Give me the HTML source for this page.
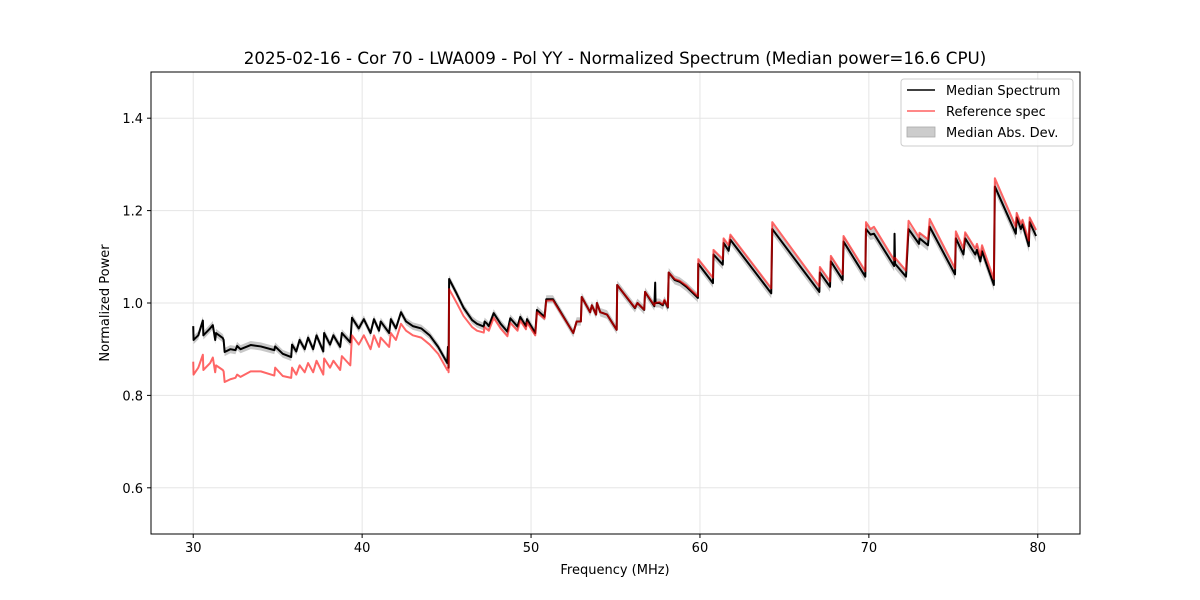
<!DOCTYPE html>
<html><head><meta charset="utf-8"><style>
body{margin:0;background:#fff;}
svg{display:block;font-family:"DejaVu Sans","Liberation Sans",sans-serif;}
</style></head><body>
<svg id="chart" width="1200" height="600" viewBox="0 0 1200 600">
<rect width="1200" height="600" fill="#fff"/>
<text x="615" y="64" text-anchor="middle" font-size="16.7">2025-02-16 - Cor 70 - LWA009 - Pol YY - Normalized Spectrum (Median power=16.6 CPU)</text>
<g id="grid"></g><g id="marks"></g>
<rect x="151" y="72" width="929" height="462" fill="none" stroke="#000" stroke-width="1"/>
<g id="axes"></g>
<text x="615" y="574" text-anchor="middle" font-size="13">Frequency (MHz)</text>
<text transform="translate(109,303) rotate(-90)" text-anchor="middle" font-size="13">Normalized Power</text>
<g>
<rect x="901" y="79" width="172" height="67" rx="3" fill="#fff" fill-opacity="0.8" stroke="#ccc"/>
<g><line x1="907" y1="90" x2="935" y2="90" stroke="#000" stroke-width="1.5"/><text x="946" y="95" font-size="13">Median Spectrum</text></g>
<g><line x1="907" y1="111" x2="935" y2="111" stroke="#ff6060" stroke-width="1.5"/><text x="946" y="116" font-size="13">Reference spec</text></g>
<g><rect x="907" y="127" width="28" height="10" fill="#cccccc" stroke="#aaa" stroke-width="0.8"/><text x="946" y="137" font-size="13">Median Abs. Dev.</text></g>
</g>
</svg>
<script>
const freqs=[30.0,30.02,30.3,30.57,30.6,31.0,31.16,31.3,31.35,31.75,31.8,31.86,32.2,32.5,32.6,32.8,33.4,34.0,34.8,34.85,35.3,35.8,
35.85,36.1,36.3,36.6,36.8,37.1,37.3,37.7,37.75,38.1,38.3,38.7,38.8,39.3,
39.4,39.8,40.1,40.5,40.7,41.0,41.1,41.6,41.7,42.0,42.3,42.6,43.0,43.5,44.0,44.5,45.04,45.08,45.12,
45.15,45.6,46.0,46.51,46.8,47.2,47.25,47.4,47.5,47.79,48.2,48.6,48.77,49.2,49.36,49.7,49.76,50.25,50.35,50.8,50.9,51.3,
52.5,52.7,52.95,53.0,53.5,53.6,53.85,53.9,54.1,54.5,55.07,55.1,56.15,56.3,56.7,56.75,57.3,57.35,57.37,57.6,57.8,57.9,58.1,58.15,58.5,58.8,59.2,59.8,59.88,
59.9,60.77,60.8,61.35,61.4,61.7,61.8,64.22,64.28,67.07,67.1,67.7,67.75,68.45,68.5,69.79,69.83,70.1,70.3,71.5,71.52,71.55,72.2,72.35,72.97,73.0,73.5,73.6,75.1,75.15,75.6,75.7,76.3,76.4,76.6,76.7,77.4,77.46,78.7,78.75,79.0,79.1,79.47,79.52,79.9];
const median=[0.95,0.92,0.93,0.962,0.93,0.945,0.952,0.92,0.935,0.924,0.92,0.894,0.9,0.898,0.907,0.9,0.909,0.906,0.898,0.906,0.89,0.883,
0.91,0.895,0.92,0.9,0.925,0.9,0.93,0.895,0.935,0.91,0.93,0.905,0.935,0.915,
0.968,0.945,0.965,0.935,0.965,0.94,0.96,0.935,0.965,0.945,0.98,0.96,0.95,0.945,0.93,0.905,0.87,0.905,0.86,
1.052,1.02,0.99,0.963,0.955,0.949,0.96,0.955,0.95,0.978,0.955,0.938,0.967,0.949,0.97,0.95,0.965,0.935,0.985,0.97,1.008,1.008,
0.935,0.96,0.96,1.013,0.98,0.995,0.975,1.0,0.98,0.975,0.942,1.039,0.989,1.0,0.985,1.024,0.993,1.044,1.0,1.0,0.995,1.005,0.99,1.066,1.05,1.046,1.035,1.014,1.011,
1.085,1.043,1.105,1.083,1.13,1.113,1.137,1.021,1.16,1.024,1.066,1.035,1.09,1.05,1.133,1.057,1.16,1.148,1.15,1.08,1.15,1.085,1.057,1.16,1.128,1.14,1.125,1.165,1.062,1.14,1.105,1.14,1.105,1.115,1.09,1.112,1.039,1.252,1.15,1.185,1.16,1.17,1.123,1.175,1.145];
const reference=[0.873,0.845,0.86,0.888,0.855,0.87,0.882,0.85,0.865,0.855,0.852,0.829,0.835,0.838,0.845,0.84,0.852,0.852,0.843,0.86,0.842,0.838,
0.86,0.845,0.865,0.85,0.87,0.85,0.875,0.845,0.88,0.86,0.875,0.855,0.885,0.865,
0.93,0.91,0.93,0.9,0.93,0.905,0.925,0.905,0.935,0.92,0.955,0.94,0.93,0.925,0.91,0.89,0.855,0.86,0.85,
1.03,1.0,0.972,0.948,0.94,0.936,0.948,0.943,0.94,0.968,0.945,0.928,0.957,0.94,0.962,0.943,0.958,0.93,0.98,0.966,1.005,1.006,
0.935,0.96,0.96,1.013,0.98,0.995,0.975,1.0,0.98,0.975,0.942,1.039,0.99,1.0,0.986,1.024,0.995,1.0,1.0,1.002,0.997,1.007,0.992,1.066,1.052,1.048,1.038,1.017,1.015,
1.095,1.055,1.115,1.095,1.14,1.125,1.148,1.032,1.175,1.036,1.078,1.047,1.102,1.062,1.145,1.069,1.175,1.16,1.165,1.093,1.093,1.098,1.07,1.178,1.142,1.152,1.138,1.182,1.075,1.155,1.118,1.153,1.118,1.128,1.103,1.125,1.052,1.27,1.165,1.195,1.172,1.18,1.135,1.185,1.158];
const madFreqs=[30,45,60,80];
const madValues=[0.009,0.008,0.01,0.013];
const xTicks=[30,40,50,60,70,80];
const yTicks=[0.6,0.8,1.0,1.2,1.4];
const yTickLabels=["0.6","0.8","1.0","1.2","1.4"];

const NS="http://www.w3.org/2000/svg";
const X0=151,X1=1080,Y0=534,Y1=72,xmin=27.5,xmax=82.5,ymin=0.5,ymax=1.5;
const sx=v=>X0+(v-xmin)/(xmax-xmin)*(X1-X0);
const sy=v=>Y0-(v-ymin)/(ymax-ymin)*(Y0-Y1);
function mk(tag,attrs,parent){const e=document.createElementNS(NS,tag);for(const k in attrs)e.setAttribute(k,attrs[k]);parent.appendChild(e);return e;}
function madAt(f){for(let i=0;i<madFreqs.length-1;i++){if(f<=madFreqs[i+1]){const t=(f-madFreqs[i])/(madFreqs[i+1]-madFreqs[i]);return madValues[i]+t*(madValues[i+1]-madValues[i]);}}return madValues[madValues.length-1];}
const grid=document.getElementById('grid'),marks=document.getElementById('marks'),axes=document.getElementById('axes');
xTicks.forEach(t=>{
 const g=mk('line',{x1:sx(t),x2:sx(t),y1:Y1,y2:Y0,stroke:'#e5e5e5','stroke-width':1},grid);
 
 
 const tk=mk('line',{x1:sx(t),x2:sx(t),y1:Y0,y2:Y0+4,stroke:'#000'},axes);
 
 
 const tl=mk('text',{x:sx(t),y:Y0+18,'text-anchor':'middle','font-size':13},axes);
 tl.textContent=String(t);
 
 
});
yTicks.forEach((t,i)=>{
 const g=mk('line',{x1:X0,x2:X1,y1:sy(t),y2:sy(t),stroke:'#e5e5e5','stroke-width':1},grid);
 
 
 const tk=mk('line',{x1:X0-4,x2:X0,y1:sy(t),y2:sy(t),stroke:'#000'},axes);
 
 
 const tl=mk('text',{x:X0-8,y:sy(t)+5,'text-anchor':'end','font-size':13},axes);
 tl.textContent=yTickLabels[i];
 
 
});
let up='',dn='';
freqs.forEach((f,i)=>{up+=(i?'L':'M')+sx(f).toFixed(2)+','+sy(median[i]+madAt(f)).toFixed(2);});
for(let i=freqs.length-1;i>=0;i--){dn+='L'+sx(freqs[i]).toFixed(2)+','+sy(median[i]-madAt(freqs[i])).toFixed(2);}
const band=mk('path',{d:up+dn+'Z',fill:'#c8c8c8',stroke:'none'},marks);


const pathOf=arr=>freqs.map((f,i)=>(i?'L':'M')+sx(f).toFixed(2)+','+sy(arr[i]).toFixed(2)).join('');
const ml=mk('path',{d:pathOf(median),fill:'none',stroke:'#000','stroke-width':2,'stroke-linejoin':'round'},marks);


const rl=mk('path',{d:pathOf(reference),fill:'none',stroke:'#ff0000','stroke-opacity':0.6,'stroke-width':2,'stroke-linejoin':'round'},marks);


</script>
</body></html>
